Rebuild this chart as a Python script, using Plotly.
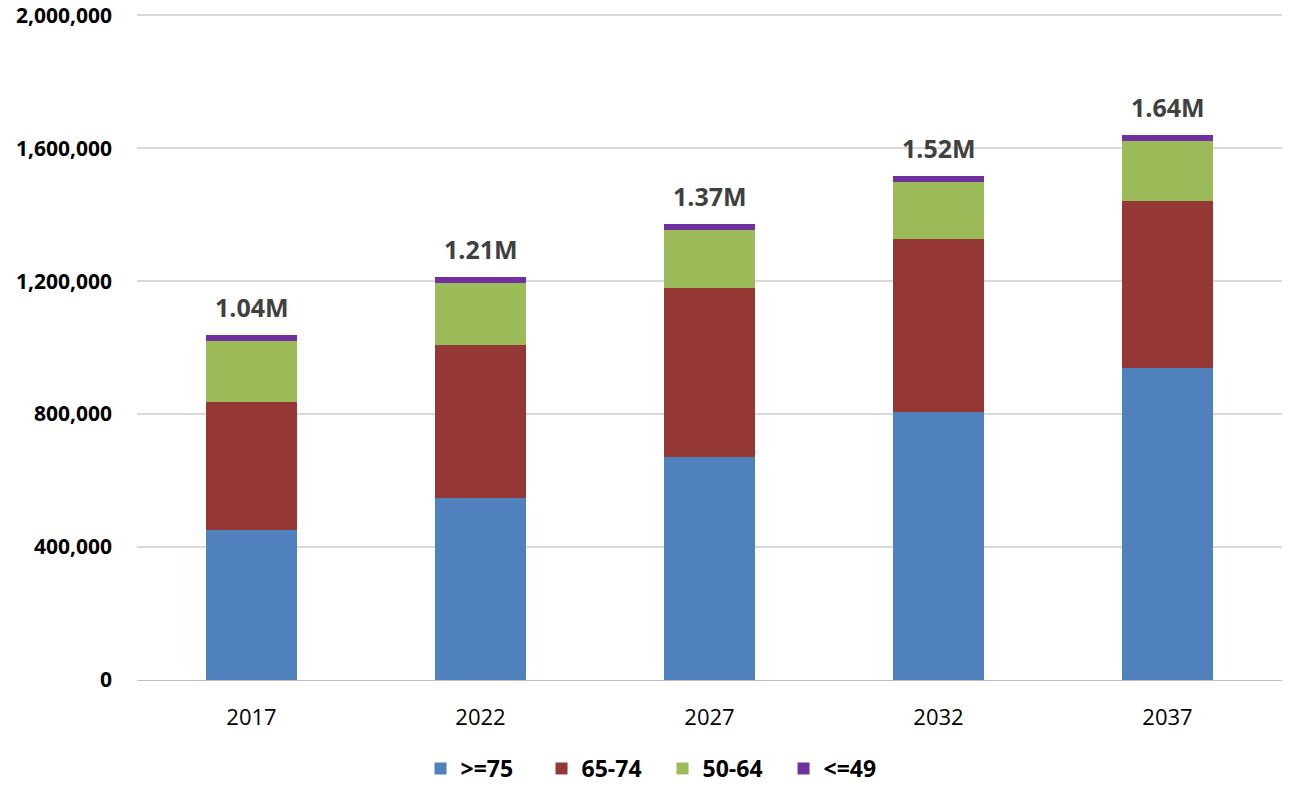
import plotly.graph_objects as go

years = ["2017", "2022", "2027", "2032", "2037"]
age_75_plus = [450000, 549000, 672000, 806000, 940000]
age_65_74 = [386000, 460000, 507000, 522000, 502000]
age_50_64 = [185000, 185000, 176000, 171000, 179000]
age_49_under = [18000, 18000, 18000, 17000, 18000]
total_labels = ["1.04M", "1.21M", "1.37M", "1.52M", "1.64M"]

series = [
    (">=75", age_75_plus, "#4F81BD"),
    ("65-74", age_65_74, "#953735"),
    ("50-64", age_50_64, "#9BBB59"),
    ("<=49", age_49_under, "#7030A0"),
]

font_family = "Open Sans, Liberation Sans, Arial"

fig = go.Figure()
for name, values, color in series:
    fig.add_trace(go.Bar(
        x=years,
        y=values,
        name=name,
        marker=dict(color=color, line=dict(width=0)),
    ))

# category axis: place the total labels by category index
totals = [sum(v) for v in zip(age_75_plus, age_65_74, age_50_64, age_49_under)]
for i, (total, label) in enumerate(zip(totals, total_labels)):
    fig.add_annotation(
        x=i, y=total, text=f"<b>{label}</b>",
        showarrow=False, yanchor="bottom", yshift=9,
        font=dict(family=font_family, size=25, color="#404040"),
    )

fig.update_layout(
    barmode="stack",
    bargap=0.6,
    width=1294,
    height=790,
    # range runs a bit past 2M so the top gridline is not clipped at the edge,
    # and the top margin leaves room for the 2,000,000 label
    margin=dict(l=137, r=12, t=12, b=110, autoexpand=False),
    plot_bgcolor="white",
    paper_bgcolor="white",
    font=dict(family=font_family, color="#000000"),
    legend=dict(
        orientation="h",
        xref="container", yref="container",
        x=0.512, xanchor="center",
        y=0.0, yanchor="bottom",
        font=dict(family=font_family, size=23, color="#000000", weight="bold"),
        itemwidth=30,
        entrywidth=76,
        traceorder="normal",
    ),
    xaxis=dict(
        type="category",
        range=[-0.5, 4.5],
        showline=True,
        linecolor="#BFBFBF",
        linewidth=1,
        ticks="",
        tickfont=dict(family=font_family, size=22, color="#000000"),
        ticklabelstandoff=18,
    ),
    yaxis=dict(
        range=[0, 2010000],
        tickvals=[0, 400000, 800000, 1200000, 1600000, 2000000],
        tickformat=",d",
        showgrid=True,
        gridcolor="#D9D9D9",
        gridwidth=1.5,
        zeroline=False,
        tickfont=dict(family=font_family, size=21, color="#000000", weight="bold"),
        ticklabelstandoff=24,
    ),
)

# drop the browser's default 8px body margin so the figure sits at (0, 0)
fig.write_html(
    "out.html",
    config={"displayModeBar": False},
    post_script="document.body.style.margin='0';",
)
